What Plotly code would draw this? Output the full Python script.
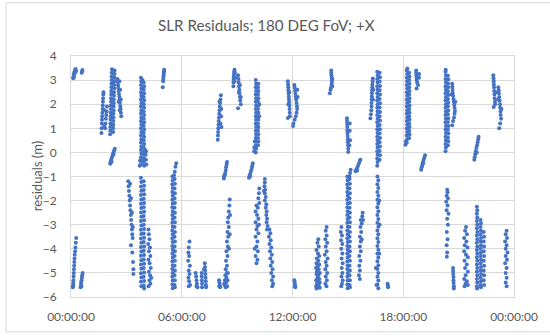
import plotly.graph_objects as go

# (hour of day, residual in m), grouped by 6-hour block
block_00_06 = [
    (0.12,3.08),(0.14,3.16),(0.16,3.24),(0.18,3.30),(0.20,3.36),(0.22,3.42),(0.25,3.46),(0.28,3.38),(0.15,3.12),(0.20,3.28),
    (0.58,3.30),(0.60,3.36),(0.62,3.42),
    (0.11,-5.55),(0.12,-5.42),(0.13,-5.30),(0.14,-5.15),(0.15,-5.00),(0.16,-4.85),(0.17,-4.70),(0.18,-4.55),(0.19,-4.40),(0.20,-4.25),(0.22,-4.10),(0.24,-3.95),(0.26,-3.75),(0.28,-3.55),(0.10,-5.60),(0.13,-5.50),
    (0.52,-5.60),(0.54,-5.50),(0.55,-5.40),(0.57,-5.30),(0.59,-5.20),(0.61,-5.10),(0.63,-5.00),(0.56,-5.55),
    (1.65,0.80),(1.66,1.00),(1.67,1.20),(1.68,1.35),(1.69,1.50),(1.70,1.65),(1.71,1.80),(1.72,1.95),(1.73,2.10),(1.74,2.25),(1.75,2.40),(1.76,2.50),(1.85,1.00),(1.87,1.20),(1.89,1.40),(1.91,1.55),(1.93,1.70),(1.95,1.90),(1.80,1.10),(1.82,1.75),
    (2.12,0.75),(2.13,0.90),(2.13,1.05),(2.14,1.20),(2.14,1.35),(2.15,1.50),(2.15,1.65),(2.16,1.80),(2.16,1.95),(2.17,2.10),(2.17,2.25),(2.18,2.40),(2.18,2.55),(2.19,2.70),(2.19,2.85),(2.20,3.00),(2.20,3.15),(2.21,3.30),(2.22,3.45),
    (2.28,0.85),(2.28,1.00),(2.29,1.15),(2.29,1.30),(2.30,1.45),(2.30,1.60),(2.31,1.75),(2.31,1.90),(2.32,2.05),(2.32,2.20),(2.33,2.35),(2.33,2.50),(2.34,2.65),(2.34,2.80),(2.35,2.95),(2.35,3.10),(2.36,3.25),(2.36,3.40),
    (2.24,1.10),(2.24,1.60),(2.25,2.00),(2.25,2.45),(2.26,2.90),(2.26,3.30),
    (2.52,3.05),(2.53,2.92),(2.55,2.80),(2.56,2.68),(2.58,2.55),(2.60,2.42),(2.62,2.30),(2.63,2.18),(2.65,2.05),(2.67,1.92),(2.69,1.80),(2.70,1.65),(2.72,1.50),(2.62,2.95),(2.66,2.60),(2.70,2.20),(2.58,2.10),(2.64,1.75),
    (2.12,-0.47),(2.15,-0.38),(2.18,-0.30),(2.22,-0.20),(2.26,-0.10),(2.30,0.00),(2.34,0.08),(2.37,0.15),(2.20,-0.40),(2.30,-0.10),
    (3.10,-1.20),(3.12,-1.40),(3.14,-1.60),(3.16,-1.80),(3.18,-2.00),(3.20,-2.20),(3.22,-2.40),(3.24,-2.60),(3.26,-2.80),(3.28,-3.00),(3.30,-3.20),(3.32,-3.40),(3.34,-3.55),(3.20,-1.30),(3.25,-1.90),(3.30,-2.50),(3.35,-3.10),(3.25,-3.85),(3.32,-4.15),(3.36,-4.55),(3.38,-4.85),(3.38,-5.05),
    (3.79,3.10),(3.81,2.95),(3.79,2.80),(3.81,2.65),(3.79,2.50),(3.81,2.35),(3.79,2.20),(3.81,2.05),(3.79,1.90),(3.81,1.75),(3.79,1.60),(3.81,1.45),(3.79,1.30),(3.81,1.15),(3.79,1.00),(3.81,0.85),(3.79,0.70),(3.81,0.55),(3.79,0.40),(3.81,0.25),(3.79,0.10),(3.81,-0.05),(3.79,-0.20),(3.81,-0.35),(3.79,-0.50),
    (3.94,2.90),(3.96,2.75),(3.94,2.60),(3.96,2.45),(3.94,2.30),(3.96,2.15),(3.94,2.00),(3.96,1.85),(3.94,1.70),(3.96,1.55),(3.94,1.40),(3.96,1.25),(3.94,1.10),(3.96,0.95),(3.94,0.80),(3.96,0.65),(3.94,0.50),(3.96,0.35),(3.94,0.20),(3.96,0.05),(3.94,-0.10),(3.96,-0.25),(3.94,-0.40),(3.96,-0.55),
    (4.04,-0.10),(4.06,-0.30),(4.08,-0.50),(3.72,-0.55),(3.74,-0.35),(4.06,0.05),(4.02,0.10),(3.87,3.00),(3.87,1.20),(3.87,2.30),
    (3.79,-1.05),(3.81,-1.23),(3.79,-1.41),(3.81,-1.59),(3.79,-1.77),(3.81,-1.95),(3.79,-2.13),(3.81,-2.31),(3.79,-2.49),(3.81,-2.67),(3.79,-2.85),(3.81,-3.03),(3.79,-3.21),(3.81,-3.39),(3.79,-3.57),(3.81,-3.75),(3.79,-3.93),(3.81,-4.11),(3.79,-4.29),(3.81,-4.47),(3.79,-4.65),(3.81,-4.83),(3.79,-5.01),(3.81,-5.19),(3.79,-5.37),(3.81,-5.55),
    (3.94,-1.20),(3.96,-1.38),(3.94,-1.56),(3.96,-1.74),(3.94,-1.92),(3.96,-2.10),(3.94,-2.28),(3.96,-2.46),(3.94,-2.64),(3.96,-2.82),(3.94,-3.00),(3.96,-3.18),(3.94,-3.36),(3.96,-3.54),(3.94,-3.72),(3.96,-3.90),(3.94,-4.08),(3.96,-4.26),(3.94,-4.44),(3.96,-4.62),(3.94,-4.80),(3.96,-4.98),(3.94,-5.16),(3.96,-5.34),(3.94,-5.52),(3.96,-5.65),
    (4.20,-3.20),(4.22,-3.40),(4.25,-3.60),(4.18,-3.80),(4.28,-3.95),(4.22,-4.10),(4.30,-4.30),(4.20,-4.45),(4.26,-4.60),(4.32,-4.80),(4.22,-4.95),(4.28,-5.10),(4.25,-5.30),(4.30,-5.45),(4.20,-5.55),(4.35,-5.20),
    (4.97,2.70),(4.99,2.95),(5.00,3.05),(5.01,3.15),(5.02,3.22),(5.03,3.30),(5.04,3.37),(5.05,3.43),
    (5.70,-0.45),(5.66,-0.60),(5.62,-0.80),(5.58,-0.95),
    (5.49,-1.00),(5.51,-1.16),(5.49,-1.32),(5.51,-1.48),(5.49,-1.64),(5.51,-1.80),(5.49,-1.96),(5.51,-2.12),(5.49,-2.28),(5.51,-2.44),(5.49,-2.60),(5.51,-2.76),(5.49,-2.92),(5.51,-3.08),(5.49,-3.24),(5.51,-3.40),(5.49,-3.56),(5.51,-3.72),(5.49,-3.88),(5.51,-4.04),(5.49,-4.20),(5.51,-4.36),(5.49,-4.52),(5.51,-4.68),(5.49,-4.84),(5.51,-5.00),(5.49,-5.16),(5.51,-5.32),(5.49,-5.48),(5.51,-5.64),
    (5.61,-1.10),(5.63,-1.30),(5.61,-1.50),(5.63,-1.70),(5.61,-1.90),(5.63,-2.10),(5.61,-2.30),(5.63,-2.50),(5.61,-2.70),(5.63,-2.90),(5.61,-3.10),(5.63,-3.30),(5.61,-3.50),(5.63,-3.70),(5.61,-3.90),(5.63,-4.10),(5.61,-4.30),(5.63,-4.50),(5.61,-4.70),(5.63,-4.90),(5.61,-5.10),(5.63,-5.30),(5.61,-5.50),(5.63,-5.60),
]

block_06_12 = [
    (6.42,-3.70),(6.38,-3.95),(6.36,-4.15),(6.40,-4.30),(6.35,-4.50),(6.44,-4.70),(6.38,-4.90),(6.42,-5.05),(6.36,-5.20),(6.40,-5.35),(6.45,-5.50),(6.38,-5.55),
    (6.75,-5.00),(6.78,-5.15),(6.80,-5.30),(6.82,-5.45),(6.85,-5.60),(6.80,-5.55),
    (7.08,-5.00),(7.08,-5.15),(7.09,-5.30),(7.10,-5.45),(7.10,-5.60),(7.25,-4.60),(7.26,-4.75),(7.27,-4.90),(7.28,-5.05),(7.29,-5.20),(7.30,-5.35),(7.31,-5.50),(7.32,-5.60),(7.20,-4.85),
    (7.95,0.52),(7.96,0.70),(7.97,0.85),(7.98,1.00),(7.99,1.15),(8.00,1.30),(8.02,1.45),(8.03,1.60),(8.05,1.75),(8.06,1.90),(8.08,2.05),(8.10,2.20),(8.12,2.37),(8.10,1.20),(8.13,1.50),(8.14,1.80),(8.15,1.05),(8.04,2.10),
    (8.02,-5.30),(8.04,-5.40),(8.06,-5.50),(8.08,-5.60),(8.03,-5.55),
    (8.45,-0.40),(8.43,-0.50),(8.40,-0.62),(8.38,-0.75),(8.35,-0.88),(8.30,-1.00),(8.28,-1.08),(8.32,-0.95),
    (8.60,-1.95),(8.58,-2.20),(8.55,-2.45),(8.52,-2.70),(8.50,-2.90),(8.55,-3.10),(8.48,-3.30),(8.52,-3.50),(8.45,-3.70),(8.50,-3.90),(8.42,-4.10),(8.48,-4.30),(8.40,-4.50),(8.45,-4.70),(8.38,-4.85),(8.44,-5.00),(8.36,-5.10),(8.42,-5.20),(8.34,-5.30),(8.40,-5.40),(8.32,-5.50),(8.38,-5.60),(8.50,-5.00),(8.48,-5.30),(8.46,-5.55),(8.56,-4.00),(8.60,-3.40),(8.62,-2.60),(8.30,-5.45),
    (8.80,2.75),(8.80,2.90),(8.81,3.05),(8.82,3.15),(8.83,3.25),(8.84,3.35),(8.86,3.43),(8.88,3.30),(8.90,3.10),(8.85,2.95),
    (9.05,3.20),(9.07,3.05),(9.08,2.90),(9.10,2.75),(9.12,2.60),(9.13,2.45),(9.15,2.30),(9.17,2.15),(9.20,2.00),(9.05,1.83),(9.10,2.50),(9.20,2.30),(9.15,2.80),
    (9.85,-0.45),(9.82,-0.55),(9.80,-0.65),(9.76,-0.75),(9.72,-0.85),(9.68,-0.95),(9.64,-1.05),(9.70,-1.00),
    (10.01,0.00),(10.03,0.15),(10.01,0.30),(10.03,0.45),(10.01,0.60),(10.03,0.75),(10.01,0.90),(10.03,1.05),(10.01,1.20),(10.03,1.35),(10.01,1.50),(10.03,1.65),(10.01,1.80),(10.03,1.95),(10.01,2.10),(10.03,2.25),(10.01,2.40),(10.03,2.55),(10.01,2.70),(10.03,2.85),(10.01,3.00),
    (10.13,0.30),(10.15,0.45),(10.13,0.60),(10.15,0.75),(10.13,0.90),(10.15,1.05),(10.13,1.20),(10.15,1.35),(10.13,1.50),(10.15,1.65),(10.13,1.80),(10.15,1.95),(10.13,2.10),(10.15,2.25),(10.13,2.40),(10.15,2.55),(10.13,2.70),(10.15,2.85),
    (9.92,0.05),(9.93,0.20),(9.95,0.45),(10.20,1.50),(10.20,2.00),
    (10.20,-1.50),(10.18,-1.70),(10.15,-1.90),(10.20,-2.10),(10.05,-2.20),(10.12,-2.30),(10.00,-2.45),(10.08,-2.60),(10.15,-2.75),(10.00,-2.90),(10.10,-3.05),(10.05,-3.20),(10.15,-3.35),(10.00,-3.50),(10.10,-3.70),(10.05,-3.90),(10.12,-4.10),(10.00,-4.30),(10.10,-4.45),(10.05,-4.60),(9.95,-4.00),(10.18,-3.00),
    (10.50,-1.10),(10.50,-1.25),(10.48,-1.40),(10.52,-1.55),(10.50,-1.70),(10.55,-1.85),(10.50,-2.00),(10.58,-2.15),(10.55,-2.30),(10.60,-2.45),(10.58,-2.60),(10.62,-2.75),(10.60,-2.90),(10.65,-3.05),(10.62,-3.20),(10.45,-1.60),
    (10.75,-3.20),(10.80,-3.35),(10.72,-3.50),(10.82,-3.65),(10.75,-3.80),(10.85,-3.95),(10.78,-4.10),(10.88,-4.25),(10.80,-4.40),(10.90,-4.55),(10.82,-4.70),(10.92,-4.85),(10.85,-5.00),(10.95,-5.15),(10.88,-5.30),(10.95,-5.45),(10.90,-5.55),
    (11.75,2.95),(11.76,2.82),(11.77,2.70),(11.78,2.58),(11.79,2.45),(11.80,2.32),(11.81,2.20),(11.82,2.08),(11.83,1.95),(11.84,1.80),(11.85,1.65),(11.86,1.50),(11.75,1.43),(11.82,2.50),(11.78,2.00),
]

block_12_18 = [
    (12.10,2.80),(12.12,2.68),(12.14,2.55),(12.16,2.42),(12.18,2.30),(12.20,2.18),(12.22,2.05),(12.24,1.92),(12.25,1.80),(12.22,1.65),(12.18,1.50),(12.12,1.35),(12.05,1.20),(12.03,1.10),(12.28,2.30),(12.26,2.60),
    (12.10,-5.30),(12.12,-5.40),(12.14,-5.50),(12.15,-5.60),(12.12,-5.55),
    (13.40,-3.60),(13.35,-3.75),(13.42,-3.90),(13.30,-4.05),(13.38,-4.20),(13.45,-4.30),(13.32,-4.40),(13.40,-4.50),(13.30,-4.60),(13.45,-4.65),(13.36,-4.72),(13.28,-4.80),(13.42,-4.85),(13.33,-4.93),(13.48,-5.00),(13.30,-5.05),(13.40,-5.10),(13.35,-5.20),(13.45,-5.25),(13.28,-5.30),(13.38,-5.35),(13.48,-5.40),(13.32,-5.45),(13.42,-5.50),(13.28,-5.55),(13.38,-5.60),(13.48,-5.62),(13.30,-5.65),
    (13.85,-3.10),(13.80,-3.25),(13.85,-3.45),(13.78,-3.60),(13.88,-3.75),(13.80,-3.90),(13.85,-4.10),(13.75,-4.25),(13.90,-4.40),(13.80,-4.55),(13.85,-4.70),(13.78,-4.85),(13.88,-5.00),(13.80,-5.15),(13.86,-5.30),(13.78,-5.45),(13.84,-5.55),
    (14.10,3.40),(14.10,3.30),(14.11,3.20),(14.12,3.10),(14.13,3.00),(14.13,2.90),(14.12,2.80),(14.10,2.70),(14.06,2.60),(14.02,2.45),(14.16,3.05),(14.15,2.75),
    (14.65,-3.10),(14.62,-3.30),(14.68,-3.45),(14.63,-3.65),(14.70,-3.80),(14.64,-4.00),(14.70,-4.20),(14.66,-4.40),(14.72,-4.60),(14.67,-4.80),(14.70,-5.00),(14.65,-5.15),(14.72,-5.30),(14.68,-5.45),(14.64,-5.55),
    (14.95,1.42),(14.95,1.30),(14.96,1.18),(14.97,1.05),(14.97,0.92),(14.98,0.80),(14.99,0.68),(15.00,0.55),(15.00,0.42),(15.01,0.30),(15.02,0.15),(15.02,0.02),(15.10,1.20),(15.10,0.90),(15.12,0.50),(15.08,0.30),
    (15.15,-0.72),(15.12,-0.85),(15.08,-1.00),
    (14.97,-1.00),(14.99,-1.16),(14.97,-1.32),(14.99,-1.48),(14.97,-1.64),(14.99,-1.80),(14.97,-1.96),(14.99,-2.12),(14.97,-2.28),(14.99,-2.44),(14.97,-2.60),(14.99,-2.76),(14.97,-2.92),(14.99,-3.08),(14.97,-3.24),(14.99,-3.40),(14.97,-3.56),(14.99,-3.72),(14.97,-3.88),(14.99,-4.04),(14.97,-4.20),(14.99,-4.36),(14.97,-4.52),(14.99,-4.68),(14.97,-4.84),(14.99,-5.00),(14.97,-5.16),(14.99,-5.32),(14.97,-5.48),(14.99,-5.64),
    (15.09,-1.10),(15.11,-1.30),(15.09,-1.50),(15.11,-1.70),(15.09,-1.90),(15.11,-2.10),(15.09,-2.30),(15.11,-2.50),(15.09,-2.70),(15.11,-2.90),(15.09,-3.10),(15.11,-3.30),(15.09,-3.50),(15.11,-3.70),(15.09,-3.90),(15.11,-4.10),(15.09,-4.30),(15.11,-4.50),(15.09,-4.70),(15.11,-4.90),(15.09,-5.10),(15.11,-5.30),(15.09,-5.50),(15.11,-5.60),
    (15.42,-0.78),(15.45,-0.72),(15.50,-0.65),(15.55,-0.55),(15.60,-0.45),(15.65,-0.35),(15.68,-0.30),(15.50,-0.75),
    (15.80,-2.50),(15.78,-2.65),(15.70,-2.80),(15.75,-2.95),(15.68,-3.10),(15.72,-3.30),(15.65,-3.50),(15.70,-3.70),(15.65,-3.90),(15.70,-4.10),(15.62,-4.30),(15.68,-4.50),(15.62,-4.70),(15.65,-4.90),(15.60,-5.10),(15.65,-5.25),(15.82,-2.80),(15.75,-3.60),
    (16.35,3.07),(16.34,2.95),(16.33,2.82),(16.32,2.70),(16.31,2.58),(16.30,2.45),(16.30,2.32),(16.29,2.20),(16.28,2.05),(16.28,1.90),(16.27,1.75),(16.25,1.58),(16.22,1.42),(16.38,2.60),(16.36,2.20),
    (16.59,-0.55),(16.61,-0.40),(16.59,-0.25),(16.61,-0.10),(16.59,0.05),(16.61,0.20),(16.59,0.35),(16.61,0.50),(16.59,0.65),(16.61,0.80),(16.59,0.95),(16.61,1.10),(16.59,1.25),(16.61,1.40),(16.59,1.55),(16.61,1.70),(16.59,1.85),(16.61,2.00),(16.59,2.15),(16.61,2.30),(16.59,2.45),(16.61,2.60),(16.59,2.75),(16.61,2.90),(16.59,3.05),(16.61,3.20),(16.59,3.35),
    (16.72,-0.30),(16.74,-0.12),(16.72,0.06),(16.74,0.24),(16.72,0.42),(16.74,0.60),(16.72,0.78),(16.74,0.96),(16.72,1.14),(16.74,1.32),(16.72,1.50),(16.74,1.68),(16.72,1.86),(16.74,2.04),(16.72,2.22),(16.74,2.40),(16.72,2.58),(16.74,2.76),(16.72,2.94),(16.74,3.12),(16.72,3.30),
    (16.60,-1.00),(16.65,-1.16),(16.60,-1.32),(16.65,-1.48),(16.60,-1.64),(16.65,-1.80),(16.60,-1.96),(16.65,-2.12),(16.60,-2.28),(16.65,-2.44),(16.60,-2.60),(16.65,-2.76),(16.60,-2.92),(16.65,-3.08),(16.60,-3.24),(16.65,-3.40),(16.60,-3.56),(16.65,-3.72),(16.60,-3.88),(16.65,-4.04),(16.60,-4.20),(16.65,-4.36),(16.60,-4.52),(16.65,-4.68),(16.60,-4.84),(16.65,-5.00),(16.60,-5.16),(16.65,-5.32),(16.60,-5.48),(16.65,-5.64),
    (16.70,-2.00),(16.72,-3.00),(16.70,-4.20),(16.52,-4.80),(16.55,-5.50),
    (17.15,-5.45),(17.17,-5.52),(17.18,-5.60),
]

block_18_24 = [
    (18.19,0.40),(18.21,0.55),(18.19,0.70),(18.21,0.85),(18.19,1.00),(18.21,1.15),(18.19,1.30),(18.21,1.45),(18.19,1.60),(18.21,1.75),(18.19,1.90),(18.21,2.05),(18.19,2.20),(18.21,2.35),(18.19,2.50),(18.21,2.65),(18.19,2.80),(18.21,2.95),(18.19,3.10),(18.21,3.25),(18.19,3.40),(18.22,3.48),
    (18.32,0.60),(18.34,0.75),(18.32,0.90),(18.34,1.05),(18.32,1.20),(18.34,1.35),(18.32,1.50),(18.34,1.65),(18.32,1.80),(18.34,1.95),(18.32,2.10),(18.34,2.25),(18.32,2.40),(18.34,2.55),(18.32,2.70),(18.34,2.85),(18.32,3.00),(18.34,3.15),(18.32,3.30),
    (18.12,0.32),(18.14,0.45),
    (18.70,3.40),(18.70,3.30),(18.71,3.20),(18.72,3.10),(18.73,3.00),(18.75,2.90),(18.80,2.80),(18.85,3.10),(18.86,3.25),(18.72,2.65),
    (18.97,-0.72),(19.00,-0.62),(19.03,-0.52),(19.06,-0.42),(19.10,-0.32),(19.14,-0.22),(19.18,-0.12),(19.08,-0.45),
    (20.29,0.05),(20.31,0.20),(20.29,0.35),(20.31,0.50),(20.29,0.65),(20.31,0.80),(20.29,0.95),(20.31,1.10),(20.29,1.25),(20.31,1.40),(20.29,1.55),(20.31,1.70),(20.29,1.85),(20.31,2.00),(20.29,2.15),(20.31,2.30),(20.29,2.45),(20.31,2.60),(20.29,2.75),(20.31,2.90),(20.29,3.05),(20.31,3.20),(20.29,3.35),(20.30,3.43),
    (20.42,0.30),(20.44,0.46),(20.42,0.62),(20.44,0.78),(20.42,0.94),(20.44,1.10),(20.42,1.26),(20.44,1.42),(20.42,1.58),(20.44,1.74),(20.42,1.90),(20.44,2.06),(20.42,2.22),(20.44,2.38),(20.42,2.54),(20.44,2.70),(20.42,2.86),(20.44,3.02),(20.42,3.18),
    (20.65,2.85),(20.66,2.72),(20.67,2.60),(20.68,2.48),(20.70,2.35),(20.72,2.22),(20.74,2.10),(20.76,1.98),(20.78,1.85),(20.80,1.72),(20.78,1.60),(20.75,1.45),(20.70,1.30),(20.65,1.13),(20.82,2.10),(20.62,2.40),
    (20.38,-1.55),(20.40,-1.65),(20.35,-1.80),(20.42,-1.90),(20.33,-2.05),(20.40,-2.20),(20.35,-2.40),(20.45,-2.55),(20.38,-2.75),(20.42,-3.00),(20.36,-3.30),(20.40,-3.60),(20.35,-3.85),(20.38,-4.15),(20.36,-4.33),
    (20.70,-4.80),(20.70,-4.92),(20.71,-5.05),(20.72,-5.17),(20.72,-5.30),(20.73,-5.42),(20.74,-5.55),(20.74,-5.65),
    (21.40,-3.10),(21.35,-3.25),(21.45,-3.40),(21.30,-3.55),(21.42,-3.70),(21.33,-3.85),(21.48,-3.95),(21.30,-4.10),(21.40,-4.25),(21.50,-4.35),(21.32,-4.50),(21.44,-4.65),(21.35,-4.80),(21.50,-4.95),(21.38,-5.10),(21.30,-5.25),(21.45,-5.35),(21.38,-5.45),(21.32,-5.55),(21.50,-5.50),
    (21.85,-0.30),(21.87,-0.20),(21.90,-0.08),(21.93,0.05),(21.96,0.18),(22.00,0.30),(22.03,0.42),(22.06,0.55),(22.08,0.65),(21.98,0.00),
    (21.99,-2.25),(22.01,-2.40),(21.99,-2.55),(22.01,-2.70),(21.99,-2.85),(22.01,-3.00),(21.99,-3.15),(22.01,-3.30),(21.99,-3.45),(22.01,-3.60),(21.99,-3.75),(22.01,-3.90),(21.99,-4.05),(22.01,-4.20),(21.99,-4.35),(22.01,-4.50),(21.99,-4.65),(22.01,-4.80),(21.99,-4.95),(22.01,-5.10),(21.99,-5.25),(22.01,-5.40),(21.99,-5.55),(22.00,-5.65),
    (22.19,-2.80),(22.21,-2.95),(22.19,-3.10),(22.21,-3.25),(22.19,-3.40),(22.21,-3.55),(22.19,-3.70),(22.21,-3.85),(22.19,-4.00),(22.21,-4.15),(22.19,-4.30),(22.21,-4.45),(22.19,-4.60),(22.21,-4.75),(22.19,-4.90),(22.21,-5.05),(22.19,-5.20),(22.21,-5.35),(22.19,-5.50),(22.21,-5.60),
    (22.36,-3.30),(22.38,-3.50),(22.36,-3.70),(22.38,-3.90),(22.36,-4.10),(22.38,-4.30),(22.36,-4.50),(22.38,-4.70),(22.36,-4.90),(22.38,-5.10),(22.36,-5.30),(22.38,-5.50),
    (22.88,3.20),(22.89,3.08),(22.90,2.95),(22.91,2.82),(22.92,2.70),(22.93,2.55),(22.94,2.40),(22.95,2.25),(22.97,2.10),(22.90,1.88),(23.00,2.50),(22.98,2.00),
    (23.15,2.70),(23.17,2.58),(23.18,2.45),(23.20,2.30),(23.22,2.15),(23.24,2.00),(23.25,1.85),(23.27,1.70),(23.28,1.55),(23.30,1.40),(23.25,1.20),(23.20,1.00),(23.32,1.80),(23.14,2.20),
    (23.60,-3.25),(23.55,-3.40),(23.62,-3.55),(23.52,-3.70),(23.60,-3.85),(23.55,-4.00),(23.65,-4.15),(23.55,-4.30),(23.62,-4.45),(23.52,-4.60),(23.60,-4.80),(23.55,-5.00),(23.60,-5.20),(23.55,-5.40),(23.60,-5.55),
]

tick_hours = [0, 6, 12, 18, 24]
tick_labels = ["00:00:00", "06:00:00", "12:00:00", "18:00:00", "00:00:00"]
y_ticks = [-6, -5, -4, -3, -2, -1, 0, 1, 2, 3, 4]

blocks = [block_00_06, block_06_12, block_12_18, block_18_24]
hours = [p[0] for b in blocks for p in b]
residuals = [p[1] for b in blocks for p in b]

GRID = "#D9D9D9"
TXT = "#595959"
FONT = "Lato, Calibri, Arial, sans-serif"

fig = go.Figure(go.Scatter(
    x=hours, y=residuals, mode="markers",
    marker=dict(size=4, color="#4472C4", line=dict(width=0)),
    showlegend=False, hoverinfo="x+y",
))

L, R, T, B = 71, 33, 56, 38
pw, ph = 550 - L - R, 336 - T - B

fig.update_layout(
    width=550, height=336,
    margin=dict(l=L, r=R, t=T, b=B, pad=0),
    paper_bgcolor="white", plot_bgcolor="white",
    font=dict(family=FONT, color=TXT, size=12),
    xaxis=dict(range=[0, 24], tickvals=tick_hours, ticktext=tick_labels,
               showgrid=True, gridcolor=GRID, gridwidth=1, zeroline=False,
               showline=True, linecolor=GRID, linewidth=1, mirror=True,
               ticks="", ticklabelstandoff=9, tickfont=dict(size=12, color=TXT)),
    yaxis=dict(range=[-6, 4], tickvals=y_ticks,
               showgrid=True, gridcolor=GRID, gridwidth=1, zeroline=False,
               showline=True, linecolor=GRID, linewidth=1, mirror=True,
               ticks="", ticklabelstandoff=11, tickfont=dict(size=12, color=TXT)),
    annotations=[
        dict(text="SLR Residuals; 180 DEG FoV; +X", xref="paper", yref="paper",
             x=(268 - L) / pw, y=(336 - B - 25) / ph, xanchor="center", yanchor="middle",
             showarrow=False, font=dict(size=15.2, color=TXT, family=FONT)),
        dict(text="residuals (m)", xref="paper", yref="paper",
             x=(36.5 - L) / pw, y=0.5, xanchor="center", yanchor="middle", textangle=-90,
             showarrow=False, font=dict(size=13, color=TXT, family=FONT)),
    ],
    shapes=[
        dict(type="rect", xref="paper", yref="paper",
             x0=(5.5 - L) / pw, x1=(556 - L) / pw,
             y0=(336 - B - 333) / ph, y1=(336 - B - 2.5) / ph,
             line=dict(color=GRID, width=1), fillcolor="rgba(0,0,0,0)", layer="below"),
    ],
)

fig.write_html("out.html", config={"displayModeBar": False},
               post_script="document.body.style.margin='0';document.body.style.overflow='hidden';")
